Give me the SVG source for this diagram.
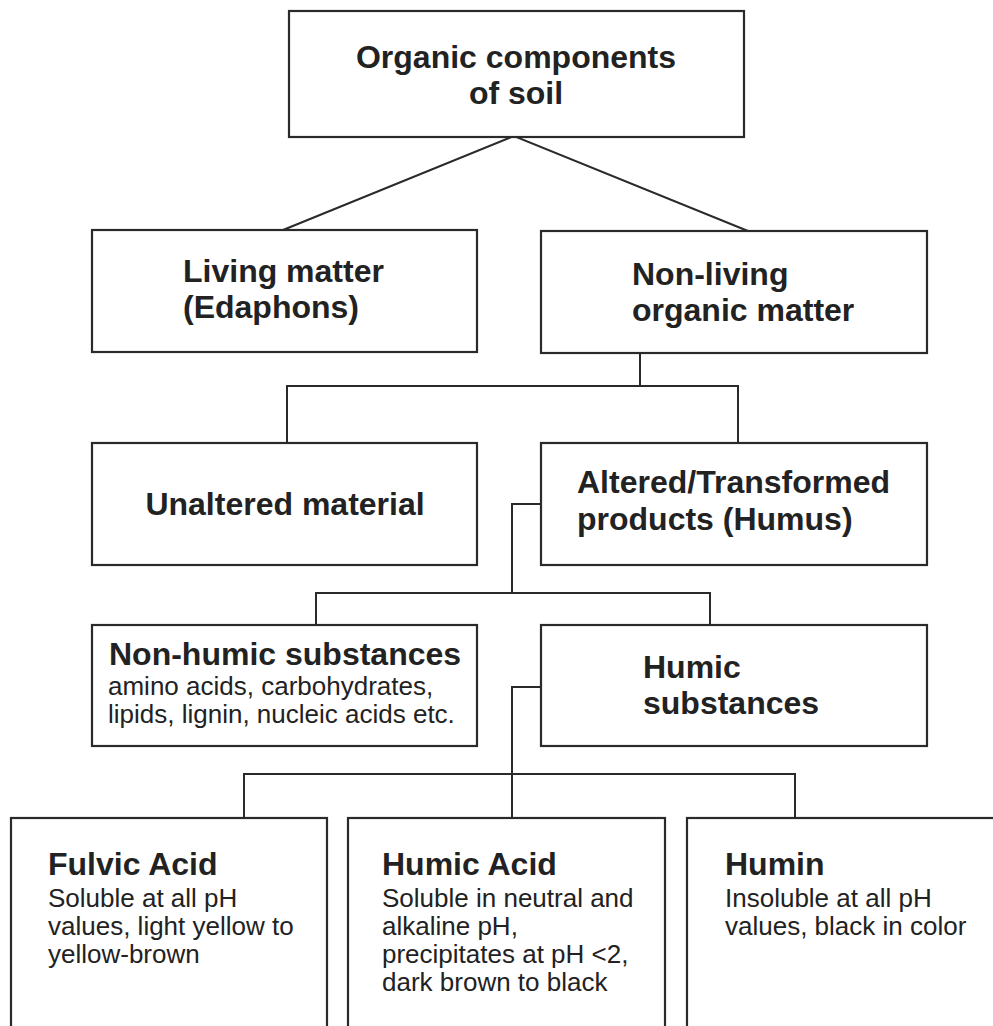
<svg xmlns="http://www.w3.org/2000/svg" width="993" height="1026" viewBox="0 0 993 1026">
<style>
.box{fill:#fff;stroke:#2a2a2a;stroke-width:2.2}
.ln{fill:none;stroke:#2a2a2a;stroke-width:2}
.t{font-family:"Liberation Sans",Arial,sans-serif;font-weight:bold;font-size:32px;fill:#222}
.b{font-family:"Liberation Sans",Arial,sans-serif;font-size:26px;fill:#222}
</style>
<rect width="993" height="1026" fill="#fff"/>
<g id="connectors">
<polyline class="ln" points="283,230 514,136 748,231"/>
<polyline class="ln" points="640,353 640,386"/>
<polyline class="ln" points="287,443 287,386 738,386 738,443"/>
<polyline class="ln" points="541,504 512,504 512,593"/>
<polyline class="ln" points="316,625 316,593 710,593 710,625"/>
<polyline class="ln" points="541,687 512,687 512,818"/>
<polyline class="ln" points="244,818 244,774 795,774 795,818"/>
</g>
<g id="organic">
<rect class="box" x="289" y="11" width="455" height="126"/>
<text class="t" x="516" y="68" text-anchor="middle">Organic components</text>
<text class="t" x="516" y="104" text-anchor="middle">of soil</text>
</g>
<g id="living">
<rect class="box" x="92" y="230" width="385" height="122"/>
<text class="t" x="183" y="282">Living matter</text>
<text class="t" x="183" y="318">(Edaphons)</text>
</g>
<g id="nonliving">
<rect class="box" x="541" y="231" width="386" height="122"/>
<text class="t" x="632" y="285">Non-living</text>
<text class="t" x="632" y="321">organic matter</text>
</g>
<g id="unaltered">
<rect class="box" x="92" y="443" width="385" height="122"/>
<text class="t" x="285" y="515" text-anchor="middle">Unaltered material</text>
</g>
<g id="altered">
<rect class="box" x="541" y="443" width="386" height="122"/>
<text class="t" x="577" y="493">Altered/Transformed</text>
<text class="t" x="577" y="530">products (Humus)</text>
</g>
<g id="nonhumic">
<rect class="box" x="92" y="625" width="385" height="121"/>
<text class="t" x="109" y="665">Non-humic substances</text>
<text class="b" x="108" y="695">amino acids, carbohydrates,</text>
<text class="b" x="108" y="723">lipids, lignin, nucleic acids etc.</text>
</g>
<g id="humic">
<rect class="box" x="541" y="625" width="386" height="121"/>
<text class="t" x="643" y="678">Humic</text>
<text class="t" x="643" y="714">substances</text>
</g>
<g id="fulvic">
<rect class="box" x="11" y="818" width="316" height="230"/>
<text class="t" x="48" y="875">Fulvic Acid</text>
<text class="b" x="48" y="907">Soluble at all pH</text>
<text class="b" x="48" y="935">values, light yellow to</text>
<text class="b" x="48" y="963">yellow-brown</text>
</g>
<g id="humicacid">
<rect class="box" x="348" y="818" width="317" height="230"/>
<text class="t" x="382" y="875">Humic Acid</text>
<text class="b" x="382" y="907">Soluble in neutral and</text>
<text class="b" x="382" y="935">alkaline pH,</text>
<text class="b" x="382" y="963">precipitates at pH &lt;2,</text>
<text class="b" x="382" y="991">dark brown to black</text>
</g>
<g id="humin">
<rect class="box" x="687" y="818" width="330" height="230"/>
<text class="t" x="725" y="875">Humin</text>
<text class="b" x="725" y="907">Insoluble at all pH</text>
<text class="b" x="725" y="935">values, black in color</text>
</g>
</svg>
